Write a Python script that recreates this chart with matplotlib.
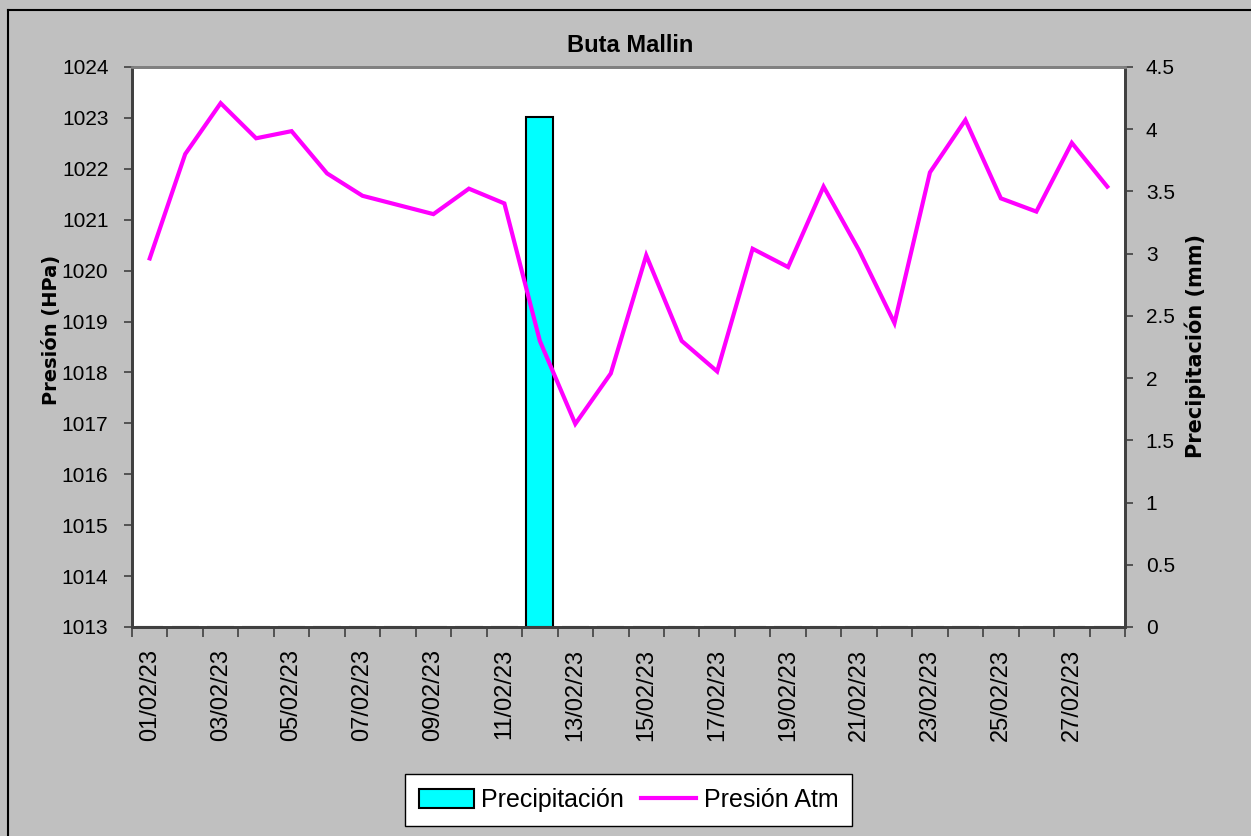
import matplotlib
matplotlib.use("Agg")
import matplotlib.pyplot as plt
from matplotlib.lines import Line2D
import numpy as np

# ---- data ----
days = [f"{d:02d}/02/23" for d in range(1, 29)]
presion = [1020.24, 1022.29, 1023.29, 1022.60, 1022.74, 1021.91, 1021.47, 1021.29,
           1021.11, 1021.61, 1021.32, 1018.62, 1016.99, 1017.98, 1020.30, 1018.62,
           1018.02, 1020.43, 1020.07, 1021.65, 1020.40, 1018.97, 1021.93, 1022.96,
           1021.42, 1021.16, 1022.51, 1021.65]
precip = [0, 0, 0, 0, 0, 0, 0, 0, 0, 0, 0, 4.1, 0, 0, 0, 0, 0, 0, 0, 0,
          0, 0, 0, 0, 0, 0, 0, 0]
left_ticks = list(range(1013, 1025))
right_ticks = [0, 0.5, 1, 1.5, 2, 2.5, 3, 3.5, 4, 4.5]
right_labels = ["0", "0.5", "1", "1.5", "2", "2.5", "3", "3.5", "4", "4.5"]
title = "Buta Mallin"

W, H = 1251, 836
plt.rcParams['font.family'] = ['Liberation Sans', 'DejaVu Sans']
fig = plt.figure(figsize=(W / 100, H / 100), dpi=100, facecolor='#C0C0C0')

L, R, T, B = 132, 1125, 67, 627
ax = fig.add_axes([L / W, 1 - B / H, (R - L) / W, (B - T) / H])
ax2 = ax.twinx()

x = np.arange(len(days))

# bars on right axis (drawn below), line on left axis (drawn above)
ax2.patch.set_visible(True)
ax2.patch.set_facecolor('white')
ax.set_zorder(ax2.get_zorder() + 1)
ax.patch.set_visible(False)

bars = ax2.bar(x, precip, width=0.77, color='#00FFFF', edgecolor='black',
               linewidth=1.5, label='Precipitación')
line, = ax.plot(x, presion, color='#FF00FF', linewidth=3.0,
                solid_joinstyle='miter', label='Presión Atm')

ax.set_xlim(-0.5, len(days) - 0.5)
ax.set_ylim(1013, 1024)
ax2.set_ylim(0, 4.5)

ax.set_yticks(left_ticks)
ax.set_yticklabels([str(v) for v in left_ticks])
ax2.set_yticks(right_ticks)
ax2.set_yticklabels(right_labels)

# x ticks at category boundaries, labels at every other category
ax.set_xticks(np.arange(-0.5, len(days), 1.0))
ax.set_xticklabels([])
ax.set_xticks(x[::2], minor=True)
ax.set_xticklabels(days[::2], minor=True, rotation=90, fontsize=17)
ax.tick_params(axis='x', which='minor', length=0, pad=16)
ax.tick_params(axis='x', which='major', length=7, width=1.2, color='#404040', direction='out')

ax.tick_params(axis='y', length=6, width=1.2, color='#404040', labelsize=15, pad=11, direction='out')
ax2.tick_params(axis='y', length=6, width=1.2, color='#404040', labelsize=15, pad=9, direction='out')

for a in (ax, ax2):
    a.spines['left'].set_color('#404040')
    a.spines['right'].set_color('#404040')
    a.spines['bottom'].set_color('#404040')
    a.spines['top'].set_color('#808080')
    for s in ('left', 'right', 'bottom'):
        a.spines[s].set_linewidth(2)
    a.spines['top'].set_linewidth(2)

fig.text(630 / W, 1 - 46 / H, title, ha='center', va='center', fontsize=17, fontweight='bold')
fig.text(51 / W, 1 - 330 / H, 'Presión (HPa)', rotation=90, ha='center', va='center',
         fontsize=14, fontweight='bold', family=['DejaVu Sans'])
fig.text(1195 / W, 1 - 346 / H, 'Precipitación (mm)', rotation=90, ha='center', va='center',
         fontsize=15, fontweight='bold', family=['DejaVu Sans'])

leg = fig.legend([bars, line], ['Precipitación', 'Presión Atm'], loc='center',
                 bbox_to_anchor=(628.5 / W, 1 - 800 / H), ncol=2, fontsize=18,
                 frameon=True, fancybox=False, edgecolor='black', facecolor='white',
                 framealpha=1, handlelength=2.2, handleheight=0.8, columnspacing=0.7,
                 handletextpad=0.3, borderpad=0.55, borderaxespad=0)
leg.get_frame().set_linewidth(1.0)

# outer border lines (top and left visible in reference)
fig.add_artist(Line2D([7.5 / W, 7.5 / W], [0, 1 - 9.5 / H], transform=fig.transFigure,
                      color='black', linewidth=1.5))
fig.add_artist(Line2D([7.5 / W, 1], [1 - 9.5 / H, 1 - 9.5 / H], transform=fig.transFigure,
                      color='black', linewidth=1.5))

fig.savefig('out.png', dpi=100, facecolor=fig.get_facecolor())
